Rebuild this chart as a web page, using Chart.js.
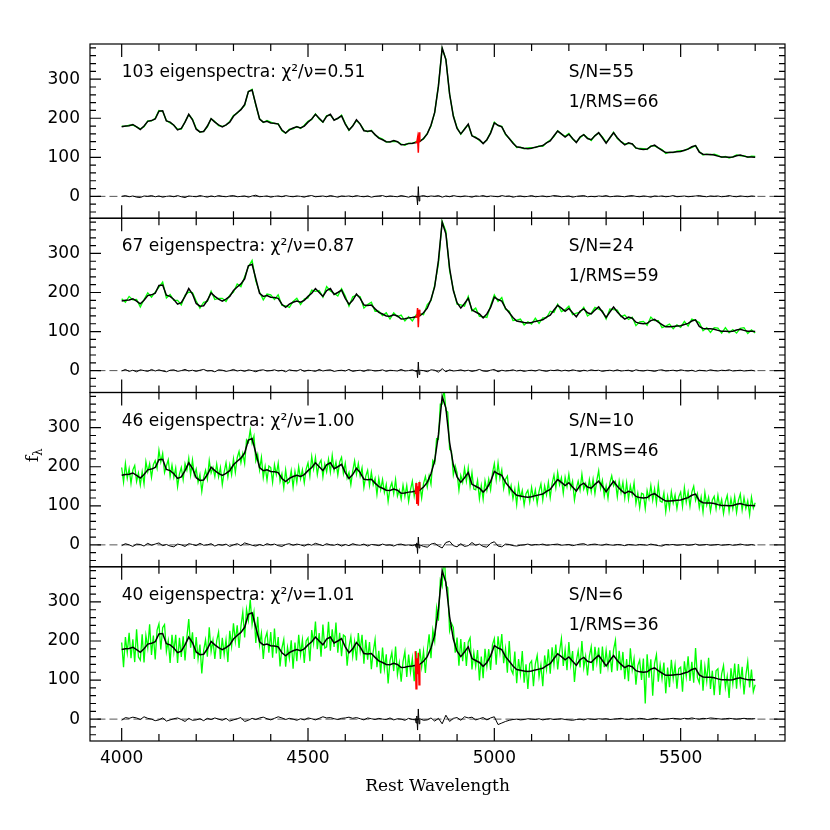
<!DOCTYPE html>
<html>
<head>
<meta charset="utf-8">
<script src="https://cdn.jsdelivr.net/npm/chart.js@4.4.1/dist/chart.umd.min.js"></script>
<style>
  html, body { margin: 0; padding: 0; background: #fff; }
  #wrap { width: 830px; height: 830px; }
</style>
</head>
<body>
<div id="wrap"><canvas id="c" width="830" height="830"></canvas></div>
<script>
// axis ranges and ticks
const xMin = 3915, xMax = 5780;
const yMin = -56, yMax = 390;
const xTickVals = [4000, 4500, 5000, 5500];
const yTickVals = [0, 100, 200, 300];

// panel annotations (top to bottom)
const fitLabels = ['103 eigenspectra: \u03c7\u00b2/\u03bd=0.51', '67 eigenspectra: \u03c7\u00b2/\u03bd=0.87',
                   '46 eigenspectra: \u03c7\u00b2/\u03bd=1.00', '40 eigenspectra: \u03c7\u00b2/\u03bd=1.01'];
const snLabels = ['S/N=55', 'S/N=24', 'S/N=10', 'S/N=6'];
const rmsLabels = ['1/RMS=66', '1/RMS=59', '1/RMS=46', '1/RMS=36'];

// sample grids (rest wavelength)
const wave10 = [];
for (let w = 4000; w <= 5700; w += 10) wave10.push(w);
const wave5 = [];
for (let w = 4000; w <= 5700; w += 5) wave5.push(w);
const zeroWave = [3935, 5765];
const zeroFlux = [0, 0];
const maskWave = [4788, 4790, 4792, 4794, 4796, 4798, 4800];

// eigenspectrum fit (black), 10 A steps
const fitFlux = [178,180,181,184,178,171,180,192,194,198,
  218,219,193,190,182,170,174,190,210,196,
  172,165,166,180,199,190,183,178,183,190,
  205,214,222,235,268,272,235,198,190,192,
  188,187,185,170,162,170,175,178,175,180,
  190,198,210,200,190,205,210,195,200,206,
  185,170,180,196,185,168,167,168,158,149,
  145,140,139,143,140,132,133,135,136,138,
  140,148,160,182,215,282,380,350,262,205,
  174,160,172,185,155,150,145,135,145,162,
  188,182,178,160,148,136,127,125,123,122,
  123,126,128,130,137,142,155,167,160,152,
  159,148,138,152,158,148,145,155,163,150,
  136,150,163,150,140,132,137,134,124,121,
  120,121,128,131,124,118,112,112,113,114,
  115,118,121,127,130,113,108,107,107,106,
  103,101,101,100,101,104,106,103,101,101,
  100];

// observed spectra (green)
const spec1 = [180,179,182,182,178,173,178,193,193,200,
  220,218,194,188,182,172,172,191,209,198,
  174,164,167,178,199,192,181,179,182,192,
  207,213,223,233,268,274,233,199,189,194,
  190,186,186,168,162,172,173,179,174,182,
  192,197,211,198,190,207,208,196,199,208,
  187,169,181,194,185,170,165,169,157,151,
  147,139,140,141,140,134,131,136,135,140,
  142,147,161,180,215,284,378,351,261,207,
  176,159,173,183,155,152,143,136,144,164,
  190,181,179,158,148,138,125,126,122,124,
  125,125,129,128,137,144,153,168,159,154,
  161,147,139,150,158,150,143,156,162,152,
  138,149,164,148,140,134,135,135,123,123,
  122,120,129,129,124,120,110,113,112,116,
  117,117,122,125,130,115,106,108,106,108,
  105,100,102,98,101,106,104,104,100,103,
  102];
const spec2 = [184,175,190,181,182,163,182,199,188,201,
  214,227,186,195,180,180,168,193,201,200,
  178,160,175,177,203,182,185,185,177,193,
  201,222,215,240,266,282,229,201,181,196,
  194,182,194,167,166,162,177,185,169,183,
  186,206,203,205,188,215,204,198,191,210,
  191,165,189,193,189,160,169,175,152,152,
  141,148,132,148,138,142,127,138,127,142,
  146,143,169,179,219,274,382,357,256,208,
  170,168,165,190,153,160,139,138,136,166,
  194,177,187,157,152,128,129,132,117,125,
  119,134,121,135,135,152,149,170,151,156,
  165,143,147,149,162,140,147,162,157,153,
  132,158,156,155,138,142,131,137,115,125,
  126,116,137,128,128,110,114,119,107,117,
  111,126,114,132,128,123,102,110,98,110,
  109,96,110,97,105,96,108,110,95,104,
  96];
const spec3 = [198,161,208,170,195,157,192,203,162,184,
  153,187,156,213,187,208,173,205,216,196,
  242,212,234,185,202,218,175,204,173,197,
  149,181,198,167,208,191,222,179,217,178,
  194,160,180,137,172,191,168,216,184,198,
  175,207,174,198,154,186,210,174,205,179,
  220,185,223,239,210,234,208,269,262,294,
  260,278,215,232,192,224,172,201,166,202,
  198,160,205,180,209,162,182,146,192,157,
  161,190,148,188,160,200,169,192,159,194,
  210,176,226,194,224,180,208,217,174,207,
  187,219,186,229,190,212,179,212,224,183,
  209,171,185,154,189,215,181,208,176,197,
  147,176,191,152,186,154,170,129,170,141,
  167,134,155,111,145,159,131,167,125,140,
  117,153,124,152,111,141,163,125,153,121,
  155,120,157,175,148,177,155,216,209,272,
  270,360,360,401,344,340,244,240,179,202,
  184,140,178,160,196,163,197,150,185,143,
  141,165,118,152,117,164,139,168,141,184,
  208,167,210,170,192,144,168,176,132,152,
  118,143,103,153,120,139,102,131,140,110,
  147,118,141,106,137,156,115,151,128,160,
  121,157,179,146,185,154,172,132,173,149,
  181,145,163,115,144,163,140,181,143,157,
  133,167,136,168,131,165,190,144,165,125,
  151,119,159,177,151,162,123,163,134,160,
  120,159,117,151,128,159,106,132,95,132,
  130,93,139,118,152,114,143,107,154,112,
  109,133,85,124,94,136,107,128,93,123,
  135,98,146,109,135,99,135,150,114,131,
  95,122,84,134,102,122,86,115,124,92,
  127,96,116,80,110,127,85,118,92,123,
  83,114,130,89,121,93,113,77,122,94,
  108];
const spec4 = [196,133,210,170,221,156,204,146,230,159,
  151,217,145,214,182,243,164,214,153,228,
  244,178,234,242,173,201,144,216,172,216,
  144,208,159,212,150,210,256,183,222,154,
  210,154,191,117,176,203,160,235,173,202,
  154,201,223,154,208,165,203,146,226,187,
  245,199,240,182,237,274,209,281,253,306,
  242,273,195,262,190,220,154,206,222,170,
  223,157,232,168,210,135,182,204,134,184,
  155,202,129,196,148,216,165,203,144,200,
  208,148,228,194,250,179,220,160,242,182,
  185,249,175,230,185,247,170,221,161,215,
  211,137,185,211,160,198,150,220,175,216,
  142,203,152,197,128,173,204,133,175,117,
  183,128,166,91,149,171,123,186,114,144,
  96,147,173,108,165,120,156,97,174,129,
  180,134,174,118,175,217,156,228,200,284,
  252,355,340,431,342,336,226,245,235,170,
  209,137,205,148,197,136,197,208,127,170,
  135,177,99,160,105,180,135,179,126,190,
  206,139,212,170,218,143,180,119,200,127,
  116,173,92,154,115,174,93,140,77,142,
  149,84,141,163,108,139,84,163,127,179,
  116,184,140,191,127,173,206,136,178,125,
  197,139,174,95,148,175,132,200,132,161,
  112,161,185,124,185,144,183,116,186,133,
  176,133,176,120,178,202,124,175,125,172,
  102,154,97,181,126,155,88,137,151,100,
  155,40,166,106,153,60,143,165,96,139,
  103,145,66,132,82,152,103,139,78,129,
  133,70,148,109,161,98,147,93,182,106,
  93,152,73,135,97,157,77,124,61,124,
  129,62,116,137,81,110,54,130,91,142,
  78,141,91,134,63,112,147,81,127,70,
  88];

// residuals (black, around zero), 10 A steps
const resid1 = [0,2,-1,1,-2,-3,1,0,2,-1, 1,-2,0,1,-1,2,-1,-3,1,0, -1,2,0,-2,1,-1,2,0,-1,1,
  2,-1,0,1,-2,1,3,-1,0,1, -2,0,1,-1,2,0,-1,1,0,-2, 1,2,-1,0,1,-1,2,0,-2,1,
  0,1,-1,2,0,-1,1,-2,0,1, 2,-1,1,0,-1,2,0,-2,1,-1, 0,2,-1,1,0,2,-2,1,-1,2,
  0,-1,1,0,-2,1,0,2,-1,1, 0,-1,2,0,1,-2,0,1,-1,0, 2,-1,0,1,-1,0,2,1,-1,0,
  1,-2,0,1,2,-1,0,-1,1,0, 2,-1,0,1,0,-1,1,2,0,-1, 1,0,-2,1,0,1,-1,0,2,-1,
  0,1,-1,0,1,2,0,-1,1,0, 1,-1,0,2,0,-1,1,0,-1,1, 0];
const resid2 = [-1,3,-2,1,-3,2,0,-2,3,-1, 2,-1,-3,1,2,-2,0,3,-1,1, -2,1,3,-1,0,-3,2,1,-2,0,
  3,-1,1,-2,2,0,-3,1,2,-1, 0,2,-1,1,-3,2,0,-1,3,-2, 1,0,-2,3,-1,1,2,-2,0,1,
  -1,3,-2,0,1,-2,2,1,-1,0, 2,-2,1,0,-1,3,-1,0,2,-2, 1,0,-3,2,1,-4,5,-3,2,-1,
  0,2,-1,1,-2,0,3,-1,-2,1, 3,-3,1,-1,0,2,-1,1,-2,0, 1,-1,2,0,-2,1,0,2,-1,1,
  -1,2,0,-2,1,-1,2,0,1,-2, 0,1,-1,2,-1,0,1,-2,2,0, -1,1,0,-2,1,2,-1,0,1,-1,
  2,0,-1,1,-2,1,0,-1,2,0, -1,1,0,2,-1,0,1,-1,0,1, -1];
const resid3 = [-2,3,0,-4,2,1,-3,4,-1,2, 5,-2,1,-3,-5,2,0,-4,3,1, -2,4,-1,0,3,-3,1,-1,2,-4,
  0,3,-2,5,2,-1,-3,1,-2,3, 0,2,-2,-4,1,3,-1,2,0,-3, 2,-1,4,1,-2,3,0,-1,2,-3,
  1,-2,3,0,-1,2,-3,1,0,-2, 2,-1,0,-3,1,2,-1,0,-2,1, 0,-4,-6,2,4,-3,-8,6,9,-2,
  -5,3,-4,-2,6,-1,2,-4,-6,4, 8,-3,-5,2,1,-2,-3,-1,0,2, -1,1,0,2,-1,0,1,2,-1,0,
  1,-2,0,2,3,-1,1,2,0,-1, 2,0,-1,1,0,-2,1,0,-1,1, 0,-1,2,0,-2,-3,1,0,1,-1,
  0,1,-1,0,2,-1,0,1,-1,0, 1,-1,0,1,-1,0,2,0,-1,1, -1];
const resid4 = [-3,4,2,5,3,-1,6,2,0,-4, -2,3,-5,-2,1,3,-1,-6,2,-3, -2,1,-4,2,-1,3,0,-3,2,-5,
  -2,1,4,-6,-3,2,-1,3,5,1, -2,2,6,3,-1,2,0,-3,1,-2, 3,1,-2,2,6,3,4,1,-1,2,
  3,5,2,4,1,-2,3,1,-1,2, 0,-1,3,-2,1,0,-3,2,-1,-2, 1,-3,-2,3,-5,2,-12,10,-6,2,
  4,-3,6,3,5,-2,1,4,-2,3, 6,-14,-10,-6,-3,-1,0,-2,-1,1, 0,-1,1,-2,0,1,-1,0,1,-1,
  -2,-3,-1,0,-2,1,0,-1,1,0, 1,-1,0,1,2,0,-1,1,0,2, 1,-1,0,2,1,-1,0,1,2,1,
  0,2,1,3,1,0,2,1,3,2, 1,0,1,2,1,0,1,2,1,1, 1];

// masked pixels near 4800 (red) and the residual spike there
const mask1 = [137, 138, 139, 150, 112, 164, 140];
const mask2 = [136, 137, 138, 160, 111, 156, 141];
const mask3 = [130, 158, 105, 150, 100, 161, 142];
const mask4 = [174, 78, 156, 115, 170, 88, 140];
const spike1 = [0, 1, -1, -22, 25, -12, 0];
const spike2 = [0, -1, 1, -18, 22, -10, 0];
const spike3 = [1, -6, 5, -22, 20, -8, 0];
const spike4 = [2, -10, 8, -28, 26, -12, 0];

const greenSeries = [spec1, spec2, spec3, spec4];
const greenWave = [wave10, wave10, wave5, wave5];
const residSeries = [resid1, resid2, resid3, resid4];
const maskSeries = [mask1, mask2, mask3, mask4];
const spikeSeries = [spike1, spike2, spike3, spike4];
const panelIds = ['y0', 'y1', 'y2', 'y3']; // top to bottom

const pts = (xs, ys) => xs.map((x, i) => ({ x: x, y: ys[i] }));
const line = (data, color, width, id, order, extra) => Object.assign({
  data: data, borderColor: color, borderWidth: width, yAxisID: id, order: order,
  pointRadius: 0, fill: false, tension: 0
}, extra || {});

const datasets = [];
panelIds.forEach((id, p) => {
  datasets.push(line(pts(greenWave[p], greenSeries[p]), '#00ff00', 1.3, id, 4));
  datasets.push(line(pts(zeroWave, zeroFlux), '#555555', 1, id, 3, { borderDash: [8, 4] }));
  datasets.push(line(pts(wave10, residSeries[p]), '#000000', 1, id, 2));
  datasets.push(line(pts(maskWave, spikeSeries[p]), '#000000', 1, id, 2));
  datasets.push(line(pts(wave10, fitFlux), '#000000', 1.5, id, 1));
  datasets.push(line(pts(maskWave, maskSeries[p]), '#ff0000', 1.5, id, 0));
});

const tickFont = { family: 'DejaVu Sans', size: 17 };
const scales = {
  x: {
    type: 'linear', min: xMin, max: xMax, position: 'bottom',
    grid: { display: false, drawTicks: false }, border: { display: false },
    ticks: { font: tickFont, color: '#000', padding: 7, maxRotation: 0, autoSkip: false,
             callback: v => String(v) },
    afterBuildTicks: s => { s.ticks = xTickVals.map(v => ({ value: v })); },
    afterFit: s => { s.height = 89; }
  }
};
// stacked axes are laid out bottom-up, so add the bottom panel first
[...panelIds].reverse().forEach(id => {
  scales[id] = {
    type: 'linear', min: yMin, max: yMax, position: 'left', stack: 'spec', stackWeight: 1,
    grid: { display: false, drawTicks: false }, border: { display: false },
    ticks: { font: tickFont, color: '#000', padding: 10 },
    afterBuildTicks: s => { s.ticks = yTickVals.map(v => ({ value: v })); },
    afterFit: s => { s.width = 90; }
  };
});

// frames, inward ticks, panel text, axis titles; clip each dataset to its panel
const framePlugin = {
  id: 'frames',
  beforeDatasetDraw(chart, args) {
    const ys = chart.scales[args.meta.yAxisID];
    const a = chart.chartArea;
    chart.ctx.save();
    chart.ctx.beginPath();
    chart.ctx.rect(a.left, ys.top, a.right - a.left, ys.bottom - ys.top);
    chart.ctx.clip();
  },
  afterDatasetDraw(chart) {
    chart.ctx.restore();
  },
  afterDraw(chart) {
    const ctx = chart.ctx, a = chart.chartArea, xs = chart.scales.x;
    ctx.save();
    ctx.strokeStyle = '#000';
    ctx.fillStyle = '#000';
    ctx.lineWidth = 1.2;
    panelIds.forEach((id, p) => {
      const ys = chart.scales[id];
      const top = ys.top, bot = ys.bottom;
      ctx.strokeRect(a.left, top, a.right - a.left, bot - top);
      ctx.beginPath();
      for (let w = 4000; w <= 5700; w += 100) {
        const px = xs.getPixelForValue(w);
        const len = xTickVals.includes(w) ? 13 : 7;
        ctx.moveTo(px, bot); ctx.lineTo(px, bot - len);
        ctx.moveTo(px, top); ctx.lineTo(px, top + len);
      }
      for (let v = -40; v <= 380; v += 20) {
        const py = ys.getPixelForValue(v);
        const len = yTickVals.includes(v) ? 11 : 6;
        ctx.moveTo(a.left, py); ctx.lineTo(a.left + len, py);
        ctx.moveTo(a.right, py); ctx.lineTo(a.right - len, py);
      }
      ctx.stroke();
      ctx.font = '17px "DejaVu Sans"';
      ctx.textAlign = 'left';
      ctx.textBaseline = 'alphabetic';
      ctx.fillText(fitLabels[p], xs.getPixelForValue(4000), top + 33);
      ctx.fillText(snLabels[p], xs.getPixelForValue(5200), top + 33);
      ctx.fillText(rmsLabels[p], xs.getPixelForValue(5200), top + 63);
    });
    ctx.font = '17px "DejaVu Serif"';
    ctx.textAlign = 'center';
    ctx.fillText('Rest Wavelength', (a.left + a.right) / 2, 791);
    ctx.translate(38, 462);
    ctx.rotate(-Math.PI / 2);
    ctx.textAlign = 'left';
    ctx.font = '17px "DejaVu Serif"';
    ctx.fillText('f', 0, 0);
    ctx.font = '12px "DejaVu Serif"';
    ctx.fillText('\u03bb', 6, 4);
    ctx.restore();
  }
};

new Chart(document.getElementById('c'), {
  type: 'line',
  data: { datasets: datasets },
  options: {
    responsive: false,
    devicePixelRatio: 1,
    animation: false,
    parsing: false,
    layout: { padding: { top: 44, right: 45, left: 0, bottom: 0 } },
    scales: scales,
    plugins: { legend: { display: false }, tooltip: { enabled: false } }
  },
  plugins: [framePlugin]
});
</script>
</body>
</html>
